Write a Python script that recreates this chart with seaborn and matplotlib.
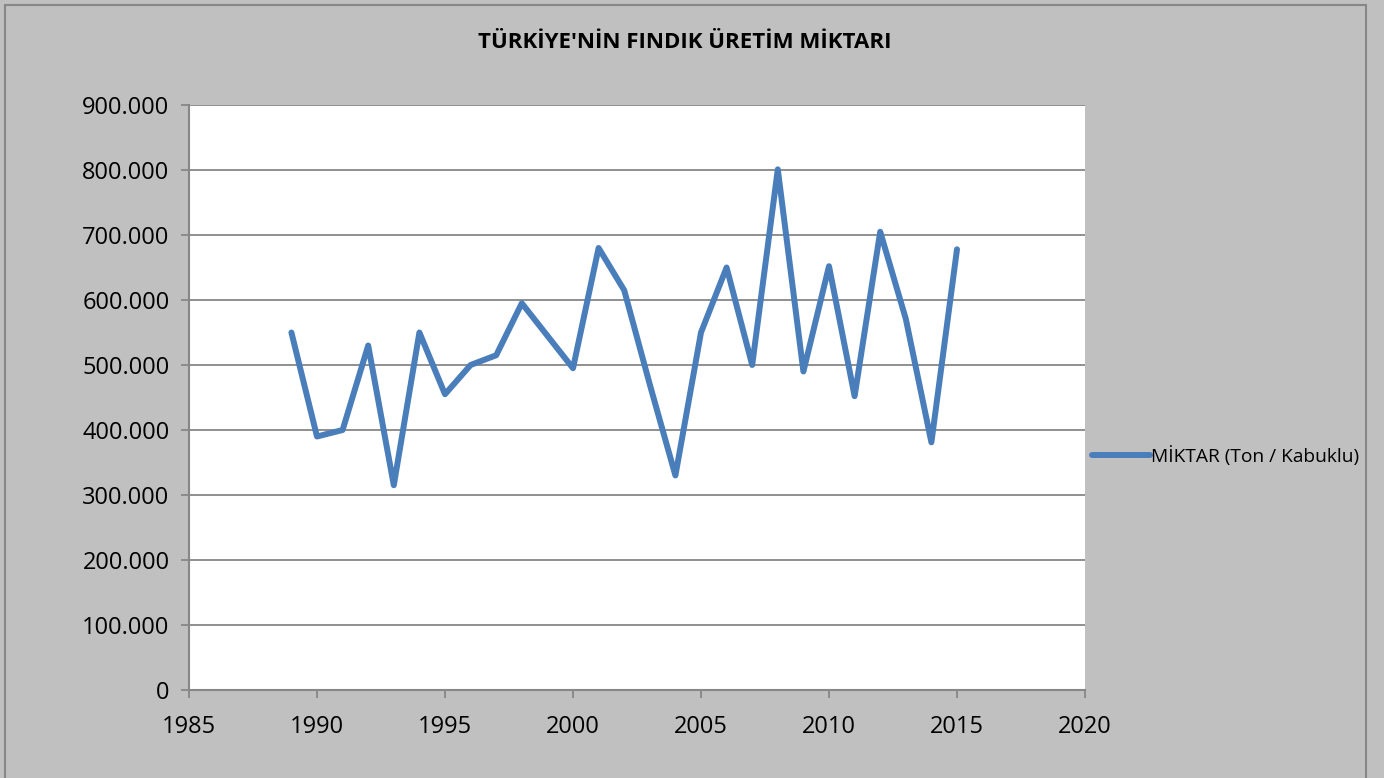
import pandas as pd
import matplotlib
matplotlib.use("Agg")
import matplotlib.pyplot as plt
import seaborn as sns
from matplotlib.patches import Rectangle
from matplotlib.ticker import FuncFormatter

# Türkiye fındık üretimi (ton, kabuklu)
years = [1989, 1990, 1991, 1992, 1993, 1994, 1995, 1996, 1997, 1998,
         1999, 2000, 2001, 2002, 2003, 2004, 2005, 2006, 2007, 2008,
         2009, 2010, 2011, 2012, 2013, 2014, 2015]
production = [550000, 390000, 400000, 530000, 315000, 550000, 455000, 500000, 515000, 595000,
              545000, 495000, 680000, 615000, 470000, 330000, 550000, 650000, 500000, 801000,
              490000, 652000, 452000, 705000, 571000, 381000, 678000]
series_name = "MİKTAR (Ton / Kabuklu)"
chart_title = "TÜRKİYE'NİN FINDIK ÜRETİM MİKTARI"

df = pd.DataFrame({"Yıl": years, "Miktar": production})

sns.set_style("white")
plt.rcParams['font.family'] = ['Open Sans', 'DejaVu Sans']
plt.rcParams['text.color'] = 'black'

GRAY_BG = "#c0c0c0"
AXIS_GRAY = "#878787"
LINE_BLUE = "#4a7ebb"

fig = plt.figure(figsize=(13.84, 7.78), dpi=100)
fig.patch.set_facecolor(GRAY_BG)
fig.patches.append(Rectangle((5 / 1384, -0.01), 1361 / 1384, 1 - 5 / 778 + 0.01,
                             transform=fig.transFigure, fill=False,
                             edgecolor=AXIS_GRAY, linewidth=1.5))

ax = fig.add_axes([189 / 1384, 88 / 778, 896 / 1384, 585 / 778])
ax.set_facecolor("white")

sns.lineplot(data=df, x="Yıl", y="Miktar", ax=ax, color=LINE_BLUE,
             linewidth=4.3, label=series_name, solid_capstyle="round",
             solid_joinstyle="round")

ax.set_xlim(1985, 2020)
ax.set_ylim(0, 900000)
ax.set_xticks(range(1985, 2021, 5))
ax.set_yticks(range(0, 900001, 100000))
ax.yaxis.set_major_formatter(FuncFormatter(lambda v, p: f"{int(v):,}".replace(",", ".")))
ax.set_xlabel("")
ax.set_ylabel("")

ax.grid(axis="y", color=AXIS_GRAY, linewidth=1.3)
ax.set_axisbelow(True)
for side in ["top", "right"]:
    ax.spines[side].set_visible(False)
for side in ["left", "bottom"]:
    ax.spines[side].set_color(AXIS_GRAY)
    ax.spines[side].set_linewidth(1.5)
ax.tick_params(axis="both", which="major", direction="out", length=6, width=1.3,
               color=AXIS_GRAY, labelsize=17, labelcolor="black", pad=8,
               left=True, bottom=True)
ax.tick_params(axis="x", pad=12)

fig.text(685 / 1384, 1 - 42 / 778, chart_title, fontsize=16, fontweight="bold",
         color="black", ha="center", va="center")

leg = ax.legend(loc="center left", bbox_to_anchor=(1092 / 1384, 1 - 456 / 778),
                bbox_transform=fig.transFigure, frameon=False, fontsize=13.8,
                handlelength=3.0, handletextpad=0.1, borderaxespad=0, borderpad=0)
for t in leg.get_texts():
    t.set_color("black")

fig.savefig("out.png", dpi=100, facecolor=fig.get_facecolor())
